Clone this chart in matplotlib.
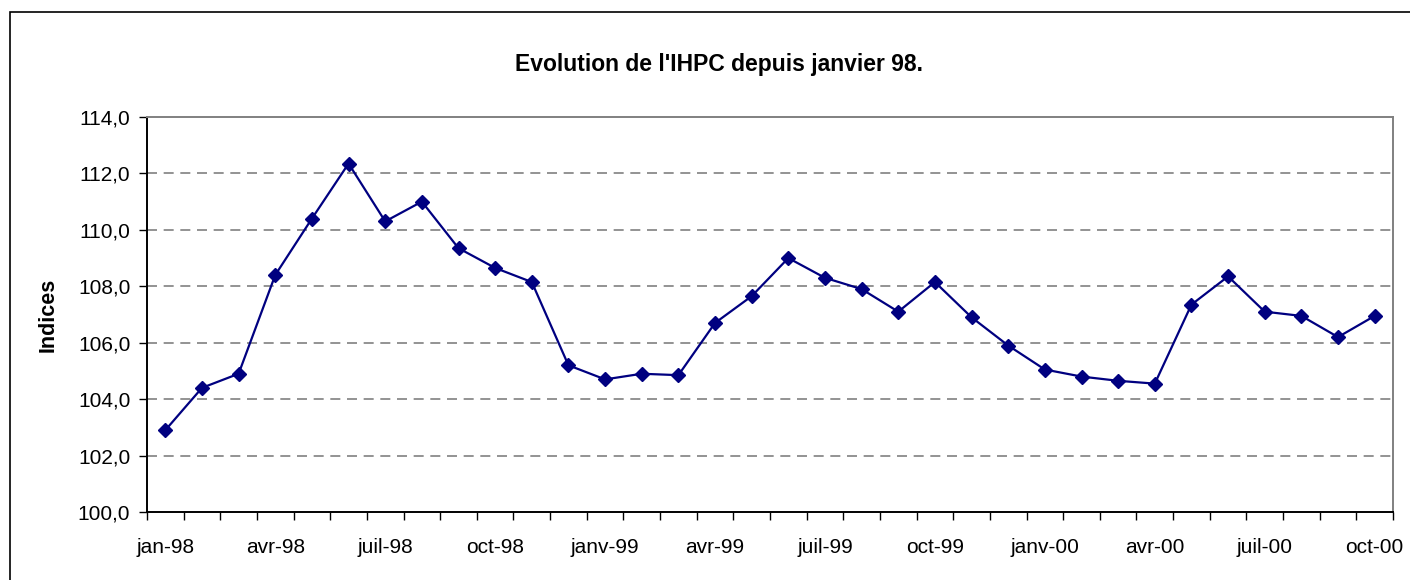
"""IHPC index since January 1998, redrawn from the Excel chart."""
import matplotlib
matplotlib.use("Agg")
import matplotlib.pyplot as plt
import matplotlib.ticker as mticker
from matplotlib.patches import Rectangle
import numpy as np

plt.rcParams["font.family"] = ["Liberation Sans", "DejaVu Sans"]

# Monthly values, jan-98 .. oct-00
ihpc = [
    102.9, 104.4, 104.9, 108.4, 110.4, 112.35, 110.3, 111.0, 109.35, 108.65, 108.15, 105.2,
    104.7, 104.9, 104.85, 106.7, 107.65, 109.0, 108.3, 107.9, 107.1, 108.15, 106.9, 105.9,
    105.05, 104.8, 104.65, 104.55, 107.35, 108.35, 107.1, 106.95, 106.2, 106.95,
]
tick_labels = ["jan-98", "avr-98", "juil-98", "oct-98", "janv-99", "avr-99",
               "juil-99", "oct-99", "janv-00", "avr-00", "juil-00", "oct-00"]
y_ticks = [100, 102, 104, 106, 108, 110, 112, 114]

NAVY = "#000080"
GRID = "#808080"

fig = plt.figure(figsize=(14.1, 5.8), dpi=100)
ax = fig.add_axes([147 / 1410, 1 - 512 / 580, (1393 - 147) / 1410, (512 - 117) / 580])

# chart-area frame (runs off the right and bottom edges, like the source)
fig.patches.append(Rectangle((10 / 1410, -0.05), 1.2, 1 - 12 / 580 + 0.05,
                             transform=fig.transFigure, fill=False,
                             edgecolor="black", lw=1.2))

x = np.arange(len(ihpc))
ax.plot(x, ihpc, color=NAVY, lw=1.6, marker="D", ms=7, mfc=NAVY, mec=NAVY, zorder=3)

ax.set_xlim(-0.5, len(ihpc) - 0.5)
ax.set_ylim(100, 114)

ax.set_yticks(y_ticks)
ax.yaxis.set_major_formatter(mticker.FuncFormatter(lambda v, _: f"{v:.1f}".replace(".", ",")))
for v in y_ticks[1:-1]:
    ax.axhline(v, color=GRID, lw=1.2, ls=(0, (6, 4)), zorder=1)

ax.set_xticks(x[::3])
ax.set_xticklabels(tick_labels)
ax.set_xticks(np.arange(len(ihpc) + 1) - 0.5, minor=True)
ax.tick_params(axis="x", which="major", length=0, pad=19, labelsize=15)
ax.tick_params(axis="x", which="minor", length=6, width=1, color="black", direction="out")
ax.tick_params(axis="y", length=6, width=1, pad=6, labelsize=15, direction="out")

for side in ("left", "bottom"):
    ax.spines[side].set_color("black")
    ax.spines[side].set_linewidth(1.4)
for side in ("top", "right"):
    ax.spines[side].set_color(GRID)
    ax.spines[side].set_linewidth(1.4)

ax.set_ylabel("Indices", fontsize=15.5, fontweight="bold", labelpad=14)
fig.text(719 / 1410, 1 - 64 / 580, "Evolution de l'IHPC depuis janvier 98.",
         ha="center", va="center", fontsize=16.5, fontweight="bold")

fig.savefig("out.png", dpi=100)
